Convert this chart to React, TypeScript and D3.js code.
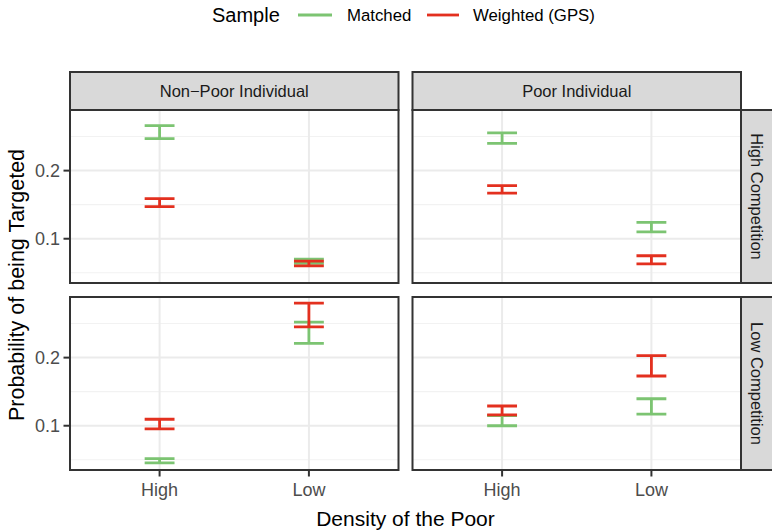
import React from "react";
import * as d3 from "d3";

// ---- data ----
const rowLabels = ["High Competition", "Low Competition"];
const colLabels = ["Non-Poor Individual", "Poor Individual"];
const densityLevels = ["High", "Low"];
const seriesNames = ["Matched", "Weighted (GPS)"];
const seriesColors = ["#7cc472", "#e3301f"];
const yTicks = [0.1, 0.2];
const yMinorTicks = [0.05, 0.15, 0.25];

// [row][col][density]
const matchedLower = [
  [[0.247, 0.064], [0.24, 0.11]],
  [[0.0455, 0.221], [0.1, 0.117]],
];
const matchedUpper = [
  [[0.266, 0.07], [0.2555, 0.124]],
  [[0.0516, 0.252], [0.115, 0.1396]],
];
const weightedLower = [
  [[0.147, 0.06], [0.167, 0.063]],
  [[0.0955, 0.245], [0.116, 0.173]],
];
const weightedUpper = [
  [[0.159, 0.067], [0.178, 0.075]],
  [[0.1095, 0.28], [0.129, 0.203]],
];

const lowers = [matchedLower, weightedLower];
const uppers = [matchedUpper, weightedUpper];

// ---- layout ----
const W = 772;
const H = 531;
const FONT = "'Liberation Sans', Arial, Helvetica, sans-serif";
const panelX = [
  [70, 398.5],
  [412.5, 741],
];
const panelY = [
  [110, 283],
  [297, 470],
];
const stripTop = 72;
const stripRightEnd = 776;
const yDomain: [number, number] = [0.035, 0.289];

export default function App() {
  // match ggplot discrete expansion: positions at 1,2 on [0.4,2.6]
  const xPos = panelX.map(([a, b]) => d3.scaleLinear().domain([0.4, 2.6]).range([a, b]));
  const yScales = panelY.map(([t, b]) => d3.scaleLinear().domain(yDomain).range([b, t]));
  const capHalf = 0.1;

  const panels: JSX.Element[] = [];
  rowLabels.forEach((rl, ri) => {
    colLabels.forEach((cl, ci) => {
      const [x0, x1] = panelX[ci];
      const [y0, y1] = panelY[ri];
      const ys = yScales[ri];
      const xs = xPos[ci];
      const key = `${ri}-${ci}`;
      panels.push(
        <g key={key}>
          <rect x={x0} y={y0} width={x1 - x0} height={y1 - y0} fill="#ffffff" />
          {yMinorTicks.map((t) => (
            <line key={"mi" + t} x1={x0} x2={x1} y1={ys(t)} y2={ys(t)} stroke="#f2f2f2" strokeWidth={1.1} />
          ))}
          {yTicks.map((t) => (
            <line key={"ma" + t} x1={x0} x2={x1} y1={ys(t)} y2={ys(t)} stroke="#ebebeb" strokeWidth={2} />
          ))}
          {densityLevels.map((d, di) => (
            <line key={"vx" + d} x1={xs(di + 1)} x2={xs(di + 1)} y1={y0} y2={y1} stroke="#ebebeb" strokeWidth={2} />
          ))}
          {seriesNames.map((s, si) =>
            densityLevels.map((d, di) => {
              const lo = lowers[si][ri][ci][di];
              const hi = uppers[si][ri][ci][di];
              const cx = xs(di + 1);
              const xl = xs(di + 1 - capHalf);
              const xr = xs(di + 1 + capHalf);
              const p = d3.path();
              p.moveTo(xl, ys(hi));
              p.lineTo(xr, ys(hi));
              p.moveTo(cx, ys(hi));
              p.lineTo(cx, ys(lo));
              p.moveTo(xl, ys(lo));
              p.lineTo(xr, ys(lo));
              return (
                <path key={s + d} d={p.toString()} stroke={seriesColors[si]} strokeWidth={2.8} fill="none" />
              );
            })
          )}
          <rect x={x0} y={y0} width={x1 - x0} height={y1 - y0} fill="none" stroke="#333333" strokeWidth={2} />
        </g>
      );
    });
  });

  const yTitleY = 285;

  return (
    <svg
      width={W}
      height={H}
      style={{ position: "absolute", left: 0, top: 0, background: "#fff" }}
      fontFamily={FONT}
    >
      <rect x={0} y={0} width={W} height={H} fill="#ffffff" />
      {/* legend */}
      <g>
        <text x={212} y={22} fontSize={20} fill="#000">Sample</text>
        <line x1={298} x2={332} y1={15} y2={15} stroke={seriesColors[0]} strokeWidth={2.8} />
        <text x={347} y={21} fontSize={16.8} fill="#000">{seriesNames[0]}</text>
        <line x1={427} x2={459} y1={15} y2={15} stroke={seriesColors[1]} strokeWidth={2.8} />
        <text x={473} y={21} fontSize={16.8} fill="#000">{seriesNames[1]}</text>
      </g>
      {/* column strips */}
      {colLabels.map((cl, ci) => {
        const [x0, x1] = panelX[ci];
        return (
          <g key={cl}>
            <rect x={x0} y={stripTop} width={x1 - x0} height={panelY[0][0] - stripTop} fill="#d9d9d9" stroke="#333333" strokeWidth={2} />
            <text x={(x0 + x1) / 2} y={(stripTop + panelY[0][0]) / 2} dy="0.35em" textAnchor="middle" fontSize={16.5} fill="#1a1a1a">
              {cl.replace("-", "\u2212")}
            </text>
          </g>
        );
      })}
      {/* row strips */}
      {rowLabels.map((rl, ri) => {
        const [y0, y1] = panelY[ri];
        const x0 = panelX[1][1];
        const cx = (x0 + 772) / 2 + 0.5;
        const cy = (y0 + y1) / 2;
        return (
          <g key={rl}>
            <rect x={x0} y={y0} width={stripRightEnd - x0} height={y1 - y0} fill="#d9d9d9" stroke="#333333" strokeWidth={2} />
            <text x={cx} y={cy} dy="0.35em" textAnchor="middle" fontSize={16.5} fill="#1a1a1a" transform={`rotate(90, ${cx}, ${cy})`}>
              {rl}
            </text>
          </g>
        );
      })}
      {panels}
      {/* y axis */}
      {panelY.map((py, ri) => (
        <g key={"ya" + ri}>
          {yTicks.map((t) => (
            <g key={t}>
              <line x1={63.5} x2={70} y1={yScales[ri](t)} y2={yScales[ri](t)} stroke="#333333" strokeWidth={2} />
              <text x={60} y={yScales[ri](t)} dy="0.35em" textAnchor="end" fontSize={18} fill="#4d4d4d">
                {d3.format(".1f")(t)}
              </text>
            </g>
          ))}
        </g>
      ))}
      {/* x axis */}
      {panelX.map((px, ci) => (
        <g key={"xa" + ci}>
          {densityLevels.map((d, di) => (
            <g key={d}>
              <line x1={xPos[ci](di + 1)} x2={xPos[ci](di + 1)} y1={470} y2={476.5} stroke="#333333" strokeWidth={2} />
              <text x={xPos[ci](di + 1)} y={490} dy="0.35em" textAnchor="middle" fontSize={18} fill="#4d4d4d">
                {d}
              </text>
            </g>
          ))}
        </g>
      ))}
      {/* axis titles */}
      <text x={(panelX[0][0] + panelX[1][1]) / 2} y={519} dy="0.35em" textAnchor="middle" fontSize={21} fill="#000">
        Density of the Poor
      </text>
      <text
        x={16}
        y={yTitleY}
        dy="0.35em"
        textAnchor="middle"
        fontSize={21.5}
        fill="#000"
        transform={`rotate(-90, 16, ${yTitleY})`}
      >
        Probability of being Targeted
      </text>
    </svg>
  );
}
